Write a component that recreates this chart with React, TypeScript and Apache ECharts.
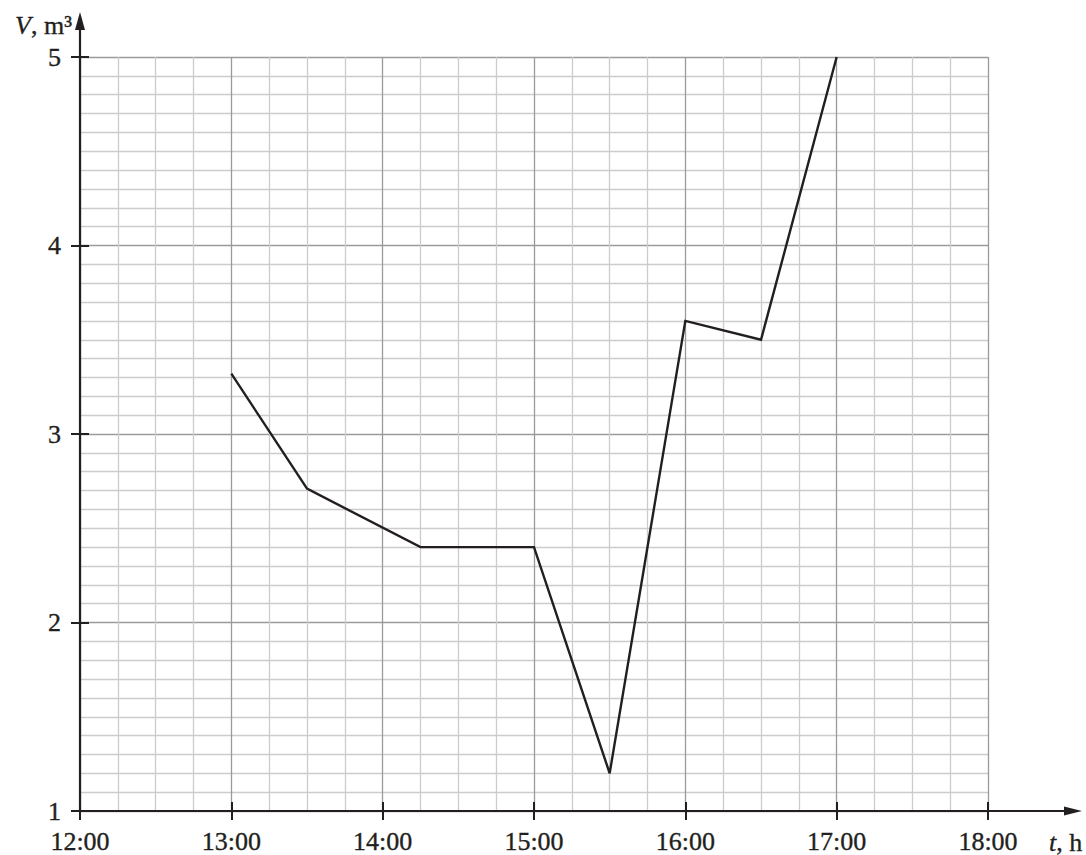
import React, { useEffect, useRef } from "react";
import * as echarts from "echarts";

// time in hours since midnight, volume in m³
const times = [13, 13.5, 14.25, 15, 15.5, 16, 16.5, 17];
const volumes = [3.32, 2.71, 2.4, 2.4, 1.2, 3.6, 3.5, 5];

const xMin = 12;
const xMax = 18;
const yMin = 1;
const yMax = 5;

const FONT = "Liberation Serif";
const INK = "#231f20";
const FS = 26;

export default function App() {
  const ref = useRef<HTMLDivElement>(null);

  useEffect(() => {
    if (!ref.current) return;
    const chart = echarts.init(ref.current, undefined, { renderer: "svg" });
    const data = times.map((t, i) => [t, volumes[i]]);

    const labelStyle = {
      show: true,
      color: INK,
      fontFamily: FONT,
      fontSize: FS,
      fontWeight: "normal",
      textBorderColor: INK,
      textBorderWidth: 0.35,
    };

    const richStyle = {
      i: { fontFamily: FONT, fontSize: FS, fontStyle: "italic", fill: INK, stroke: INK, lineWidth: 0.35 },
      n: { fontFamily: FONT, fontSize: FS, fill: INK, stroke: INK, lineWidth: 0.35 },
    };

    chart.setOption({
      animation: false,
      backgroundColor: "#ffffff",
      textStyle: { fontFamily: FONT, fontSize: FS, color: INK },
      grid: [
        { left: 80, top: 57, right: 98, bottom: 44 },
        { left: 80, top: 21, right: 13, bottom: 44 },
      ],
      xAxis: [
        {
          type: "value",
          gridIndex: 0,
          min: xMin,
          max: xMax,
          interval: 1,
          position: "bottom",
          axisLine: { show: false, onZero: false },
          axisTick: { show: true, inside: true, length: 9, lineStyle: { color: INK, width: 2 } },
          axisLabel: {
            ...labelStyle,
            margin: 17,
            formatter: (v: number) => `${v}:00`,
          },
          splitLine: { show: true, lineStyle: { color: "#9a9a9a", width: 1.3 } },
          minorTick: { show: false, splitNumber: 4 },
          minorSplitLine: { show: true, lineStyle: { color: "#cccccc", width: 1.3 } },
        },
        {
          type: "value",
          gridIndex: 0,
          min: xMin,
          max: xMax,
          interval: 1,
          position: "bottom",
          axisLine: { show: false, onZero: false },
          axisTick: { show: true, inside: false, length: 9, lineStyle: { color: INK, width: 2 } },
          axisLabel: { show: false },
          splitLine: { show: false },
        },
        {
          type: "value",
          gridIndex: 1,
          min: 0,
          max: 1,
          position: "bottom",
          axisLine: {
            show: true,
            onZero: false,
            symbol: ["none", "triangle"],
            symbolSize: [9, 18],
            lineStyle: { color: INK, width: 2.2 },
          },
          axisTick: { show: false },
          axisLabel: { show: false },
          splitLine: { show: false },
        },
      ],
      yAxis: [
        {
          type: "value",
          gridIndex: 0,
          min: yMin,
          max: yMax,
          interval: 1,
          position: "left",
          axisLine: { show: false, onZero: false },
          axisTick: { show: true, inside: true, length: 9, lineStyle: { color: INK, width: 2 } },
          axisLabel: { ...labelStyle, margin: 19 },
          splitLine: { show: true, lineStyle: { color: "#9a9a9a", width: 1.3 } },
          minorTick: { show: false, splitNumber: 10 },
          minorSplitLine: { show: true, lineStyle: { color: "#cccccc", width: 1.3 } },
        },
        {
          type: "value",
          gridIndex: 0,
          min: yMin,
          max: yMax,
          interval: 1,
          position: "left",
          axisLine: { show: false, onZero: false },
          axisTick: { show: true, inside: false, length: 9, lineStyle: { color: INK, width: 2 } },
          axisLabel: { show: false },
          splitLine: { show: false },
        },
        {
          type: "value",
          gridIndex: 1,
          min: 0,
          max: 1,
          position: "left",
          axisLine: {
            show: true,
            onZero: false,
            symbol: ["none", "triangle"],
            symbolSize: [10, 18],
            lineStyle: { color: INK, width: 2.2 },
          },
          axisTick: { show: false },
          axisLabel: { show: false },
          splitLine: { show: false },
        },
      ],
      series: [
        {
          type: "line",
          xAxisIndex: 0,
          yAxisIndex: 0,
          data,
          showSymbol: false,
          symbol: "none",
          lineStyle: { color: INK, width: 2.4, join: "miter" },
          z: 10,
        },
      ],
      graphic: [
        {
          type: "text",
          x: 72,
          y: 25,
          style: {
            text: "{i|V}{n|, m³}",
            textAlign: "right",
            textVerticalAlign: "middle",
            fill: INK,
            rich: richStyle,
          },
        },
        {
          type: "text",
          x: 1049,
          y: 842,
          style: {
            text: "{i|t}{n|, h}",
            textAlign: "left",
            textVerticalAlign: "middle",
            fill: INK,
            rich: richStyle,
          },
        },
      ],
    });

    return () => chart.dispose();
  }, []);

  return (
    <div
      ref={ref}
      style={{ position: "fixed", left: 0, top: 0, width: 1086, height: 855, background: "#fff" }}
    />
  );
}
